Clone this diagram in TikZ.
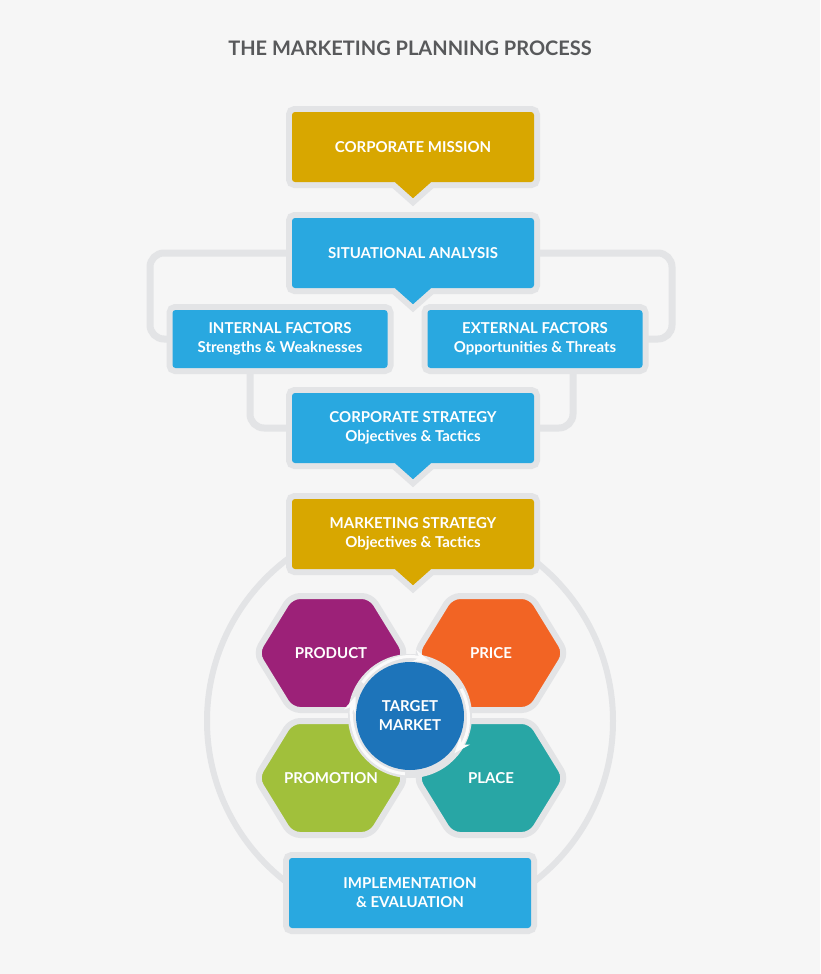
\documentclass[tikz,border=0pt]{standalone}
\usepackage{fontspec}
\setmainfont{Lato}
\usetikzlibrary{positioning,backgrounds,arrows.meta,calc}
\definecolor{gold}{HTML}{D8A700}
\definecolor{sky}{HTML}{29A8E0}
\definecolor{frame}{HTML}{E3E4E6}
\definecolor{paper}{HTML}{F6F6F6}
\definecolor{ink}{HTML}{58595B}
\definecolor{plum}{HTML}{9C2178}
\definecolor{tang}{HTML}{F26424}
\definecolor{lime}{HTML}{A1C03B}
\definecolor{teal}{HTML}{28A6A5}
\definecolor{navy}{HTML}{1D74BA}
\tikzset{
	box/.style={rectangle, rounded corners=3pt, minimum width=242pt, minimum height=70pt,
		text=white, font=\bfseries\fontsize{15}{19}\selectfont, align=center,
		preaction={draw=frame, line width=12pt}},
	small/.style={box, minimum width=215pt, minimum height=58pt},
	link/.style={draw=frame, line width=7pt, rounded corners=14pt},
	hextext/.style={text=white, font=\bfseries\fontsize{15}{19}\selectfont, align=center}
}
% speech-bubble pointer under a box
\newcommand{\pointer}[2]{%
	\draw[frame, line width=12pt] ([xshift=-18pt]#1.south) -- ([yshift=-16pt]#1.south) -- ([xshift=18pt]#1.south);
	\fill[#2] ([xshift=-26pt,yshift=6pt]#1.south) -- ([xshift=-18pt]#1.south) -- ([yshift=-16pt]#1.south)
		-- ([xshift=18pt]#1.south) -- ([xshift=26pt,yshift=6pt]#1.south) -- cycle;}
% hexagon around a named centre
\newcommand{\hexa}[2]{%
	\filldraw[#2, draw=frame, line width=6pt, rounded corners=9pt]
		($(#1)+(-75,0)$) -- ($(#1)+(-40,57)$) -- ($(#1)+(40,57)$) -- ($(#1)+(75,0)$)
		-- ($(#1)+(40,-57)$) -- ($(#1)+(-40,-57)$) -- cycle;}
\begin{document}
\begin{tikzpicture}[x=1pt, y=1pt, >=Stealth]
	\useasboundingbox (0,0) rectangle (820,-974);
	% title
	\node[text=ink, font=\bfseries\fontsize{20}{24}\selectfont] (title) at (410,-48) {THE MARKETING PLANNING PROCESS};
	
	% boxes
	\node[box, fill=gold] (mission) at (413,-147) {CORPORATE MISSION};
	\pointer{mission}{gold}
	\node[box, fill=sky] (situ) at (413,-253) {SITUATIONAL ANALYSIS};
	\pointer{situ}{sky}
	\node[small, fill=sky] (internal) at (280,-339) {INTERNAL FACTORS\\Strengths \& Weaknesses};
	\node[small, fill=sky] (external) at (535,-339) {EXTERNAL FACTORS\\Opportunities \& Threats};
	\node[box, fill=sky] (corp) at (413,-428) {CORPORATE STRATEGY\\Objectives \& Tactics};
	\pointer{corp}{sky}
	\node[box, fill=gold] (mkt) at (413,-534) {MARKETING STRATEGY\\Objectives \& Tactics};
	\pointer{mkt}{gold}
	
	% marketing mix
	\coordinate (cprod) at (331,-653);
	\coordinate (cprice) at (491,-653);
	\coordinate (cpromo) at (331,-778);
	\coordinate (cplace) at (491,-778);
	\hexa{cprod}{plum}
	\hexa{cprice}{tang}
	\hexa{cpromo}{lime}
	\hexa{cplace}{teal}
	\node[hextext] (product) at (cprod) {PRODUCT};
	\node[hextext] (price) at (cprice) {PRICE};
	\node[hextext] (promotion) at (cpromo) {PROMOTION};
	\node[hextext] (place) at (cplace) {PLACE};
	\fill[frame] (410,-716) circle (62);
	\node[circle, fill=navy, minimum size=108pt, inner sep=0pt, hextext] (target) at (410,-716) {TARGET\\MARKET};
	% cycle arrows
	\foreach \a/\b in {145/70, 28/-40, -95/-200}
		\draw[->, white!85!frame, line width=3pt] ($(target)+(\a:58)$) arc[start angle=\a, end angle=\b, radius=58];
	
	\node[box, fill=sky] (impl) at (410,-893) {IMPLEMENTATION\\\& EVALUATION};
	
	% CONNECTIONS
	\begin{pgfonlayer}{background}
		\fill[paper] (0,0) rectangle (820,-974);
		\draw[frame, line width=6pt] (410,-721) circle (203);
		\draw[link] (situ.west) -| (150,-339) -- (internal.west);
		\draw[link] (situ.east) -| (672,-339) -- (external.east);
		\draw[link] (internal.south -| 250,0) |- (corp.west);
		\draw[link] (external.south -| 573,0) |- (corp.east);
	\end{pgfonlayer}
\end{tikzpicture}
\end{document}
